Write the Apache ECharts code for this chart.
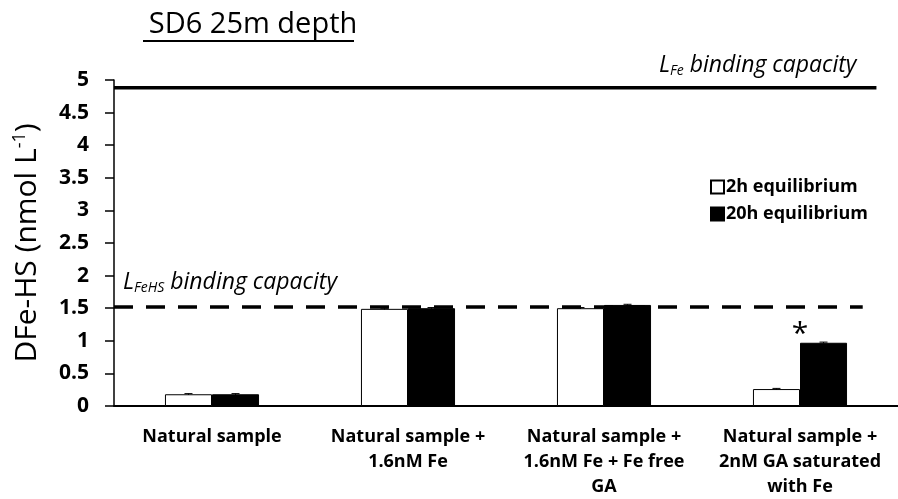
<!DOCTYPE html>
<html><head><meta charset="utf-8">
<script src="https://cdn.jsdelivr.net/npm/echarts@6/dist/echarts.min.js"></script>
<style>html,body{margin:0;padding:0;background:#fff}#c{width:898px;height:499px}</style>
</head><body><div id="c"></div>
<script>
const categories = ['Natural sample', 'Natural sample +\n1.6nM Fe', 'Natural sample +\n1.6nM Fe + Fe free\nGA', 'Natural sample +\n2nM GA saturated\nwith Fe'];
const seriesNames = ['2h equilibrium', '20h equilibrium'];
const values2h = [0.18, 1.49, 1.50, 0.26];
const values20h = [0.18, 1.50, 1.55, 0.97];
const err2h = [0.01, 0.01, 0.01, 0.01];
const err20h = [0.01, 0.01, 0.01, 0.01];
const yTicks = [0, 0.5, 1, 1.5, 2, 2.5, 3, 3.5, 4, 4.5, 5];
const lFeCapacity = 4.88;
const lFeHSCapacity = 1.52;
const lFeLineExtent = [0, 3.89];
const lFeHSLineExtent = [0, 3.82];
const starPoint = [3.5, 1.19];

const font = '"Open Sans", Lato, sans-serif';
const chart = echarts.init(document.getElementById('c'));

function errSeries(vals, errs, barIdx) {
  return {
    type: 'custom', xAxisIndex: 0, yAxisIndex: 0, z: 5, silent: true,
    data: vals.map((v, i) => [i, v, errs[i]]),
    renderItem: function (params, api) {
      const i = api.value(0), v = api.value(1), e = api.value(2);
      const c = api.coord([i, v]);
      const bw = api.size([1, 0])[0] * 0.24;
      const x = c[0] + (barIdx === 0 ? -bw / 2 : bw / 2);
      const top = api.coord([i, v + e])[1];
      const bot = api.coord([i, v - e])[1];
      const cap = 4;
      const st = { stroke: '#000', lineWidth: 1 };
      return { type: 'group', children: [
        { type: 'line', shape: { x1: x, y1: top, x2: x, y2: bot }, style: st },
        { type: 'line', shape: { x1: x - cap, y1: top, x2: x + cap, y2: top }, style: st }
      ] };
    }
  };
}

const italicRich = {
  i: { fontFamily: font, fontSize: 23, fontStyle: 'italic', color: '#000' },
  sub: { fontFamily: font, fontSize: 14, fontStyle: 'italic', color: '#000', padding: [11, 6, 0, 0] }
};

chart.setOption({
  animation: false,
  backgroundColor: '#fff',
  grid: { left: 114, right: 0, top: 80, bottom: 91, containLabel: false },
  title: {
    text: 'SD6 25m depth', left: 248, top: 5, textAlign: 'center',
    textStyle: { fontFamily: font, fontSize: 29, fontWeight: 'normal', color: '#000' }
  },
  graphic: [{ type: 'line', shape: { x1: 143, y1: 41, x2: 354, y2: 41 }, style: { stroke: '#000', lineWidth: 2 } }],
  legend: {
    orient: 'vertical', left: 705, top: 173, itemWidth: 13, itemHeight: 13, itemGap: 9,
    data: seriesNames,
    textStyle: { fontFamily: font, fontSize: 18, fontWeight: 'bold', color: '#000', padding: [0, 0, 0, -3] },
    icon: 'rect'
  },
  xAxis: [{
    type: 'category', data: categories,
    axisLine: { lineStyle: { color: '#000', width: 2 } },
    axisTick: { show: false },
    axisLabel: { fontFamily: font, fontSize: 18, fontWeight: 'bold', color: '#000', lineHeight: 25, margin: 18, interval: 0 }
  }, {
    type: 'value', min: 0, max: 4, show: false
  }],
  yAxis: {
    type: 'value', min: 0, max: 5, interval: 0.5,
    name: 'DFe-HS (nmol L{sup|-1})', nameLocation: 'middle', nameGap: 70, nameRotate: 90,
    nameTextStyle: { fontFamily: font, fontSize: 30, color: '#000',
      rich: { sup: { fontFamily: font, fontSize: 18, verticalAlign: 'top', padding: [0, 0, 15, 0], color: '#000' } } },
    splitLine: { show: false },
    axisLine: { show: true, lineStyle: { color: '#000', width: 1.5 } },
    axisTick: { show: true, length: 9, lineStyle: { color: '#000', width: 1.5 } },
    axisLabel: { fontFamily: font, fontSize: 21, fontWeight: 'bold', color: '#000', margin: 25,
      formatter: v => String(v) }
  },
  series: [
    { name: seriesNames[0], type: 'bar', data: values2h, barWidth: '24%', barGap: '0%',
      itemStyle: { color: '#fff', borderColor: '#000', borderWidth: 1 } },
    { name: seriesNames[1], type: 'bar', data: values20h, barWidth: '24%', barGap: '0%',
      itemStyle: { color: '#000', borderColor: '#000', borderWidth: 1 } },
    errSeries(values2h, err2h, 0),
    errSeries(values20h, err20h, 1),
    { type: 'line', xAxisIndex: 1, yAxisIndex: 0, symbol: 'none', silent: true, z: 6,
      data: [[lFeLineExtent[0], lFeCapacity], [lFeLineExtent[1], lFeCapacity]],
      lineStyle: { color: '#000', width: 3.5 } },
    { type: 'line', xAxisIndex: 1, yAxisIndex: 0, symbol: 'none', silent: true, z: 6,
      data: [[lFeHSLineExtent[0], lFeHSCapacity], [lFeHSLineExtent[1], lFeHSCapacity]],
      lineStyle: { color: '#000', width: 3.5, type: [19, 13] } },
    { type: 'scatter', xAxisIndex: 1, yAxisIndex: 0, symbolSize: 0, silent: true, z: 7,
      itemStyle: { opacity: 1, color: '#000' },
      data: [
        { value: [lFeLineExtent[1], lFeCapacity], label: { show: true, position: 'left', offset: [-15, -22],
          formatter: '{i|L}{sub|Fe}{i|binding capacity}', rich: italicRich } },
        { value: [0, lFeHSCapacity], label: { show: true, position: 'right', offset: [4, -24], align: 'left',
          formatter: '{i|L}{sub|FeHS}{i|binding capacity}', rich: italicRich } },
        { value: starPoint, label: { show: true, position: 'inside', formatter: '*',
          fontFamily: font, fontSize: 30, color: '#000', offset: [0, 6] } }
      ] }
  ]
});
</script></body></html>
